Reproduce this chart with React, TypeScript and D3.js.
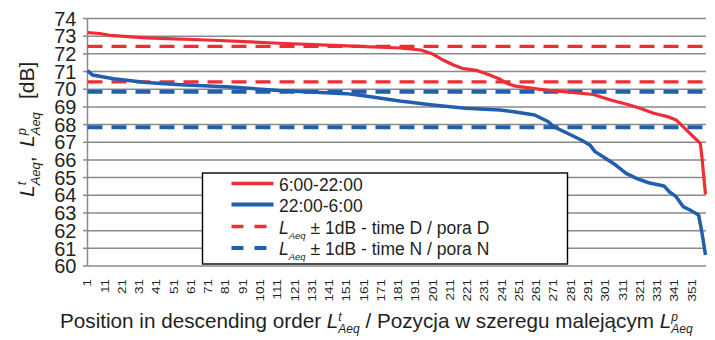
import React from "react";
import * as d3 from "d3";

// Number of ranked positions on the horizontal axis
const positionCount = 359;

// Day period (6:00-22:00): levels ranked in descending order
const dayPositions = [1, 8, 14, 35, 74, 112, 151, 182, 194, 201, 207, 213, 218, 227, 234, 240, 244, 249, 259, 269, 279, 294, 304, 315, 321, 329, 337, 342, 346, 352, 356, 357, 358, 359];
const dayLevels = [73.2, 73.15, 73.05, 72.9, 72.77, 72.6, 72.45, 72.33, 72.22, 71.99, 71.65, 71.37, 71.18, 71.05, 70.8, 70.56, 70.33, 70.17, 70.05, 69.92, 69.85, 69.7, 69.39, 69.11, 68.92, 68.64, 68.45, 68.26, 67.88, 67.31, 66.94, 66.1, 65.05, 64.05];

// Night period (22:00-6:00): levels ranked in descending order
const nightPositions = [1, 4, 16, 35, 55, 84, 112, 151, 161, 170, 182, 201, 220, 240, 248, 260, 268, 271, 279, 287, 292, 295, 301, 307, 313, 319, 326, 335, 338, 342, 346, 350, 355, 357, 359];
const nightLevels = [71.05, 70.8, 70.59, 70.38, 70.25, 70.12, 69.93, 69.75, 69.63, 69.5, 69.33, 69.11, 68.92, 68.82, 68.72, 68.54, 68.16, 67.88, 67.51, 67.13, 66.85, 66.47, 66.09, 65.71, 65.24, 64.96, 64.71, 64.53, 64.2, 63.92, 63.36, 63.17, 62.89, 61.85, 60.62];

// Equivalent levels for each period and the tolerance band around them
const dayEquivalent = 71.42;
const nightEquivalent = 68.85;
const tolerance = 1;

const xTickLabels = [1, 11, 21, 31, 41, 51, 61, 71, 81, 91, 101, 111, 121, 131, 141, 151, 161, 171, 181, 191, 201, 211, 221, 231, 241, 251, 261, 271, 281, 291, 301, 311, 321, 331, 341, 351];
const yTickLabels = [60, 61, 62, 63, 64, 65, 66, 67, 68, 69, 70, 71, 72, 73, 74];

const legendNames = ["6:00-22:00", "22:00-6:00", "time D / pora D", "time N / pora N"];

const RED = "#ee2d36";
const BLUE = "#215eae";
const GRID = "#8a8a8a";
const INK = "#231f20";
const FONT = "'Liberation Sans', Arial, Helvetica, sans-serif";

const width = 715;
const height = 340;
const plot = { left: 87.5, right: 706, top: 18.5, bottom: 266 };

export default function App() {
  const x = d3.scaleLinear().domain([1, positionCount]).range([plot.left, 705.5]);
  const y = d3.scaleLinear().domain([60, 74]).range([plot.bottom, plot.top]);

  const line = d3
    .line<[number, number]>()
    .x((d) => x(d[0]))
    .y((d) => y(d[1]));

  const dayPath = line(dayPositions.map((p, i) => [p, dayLevels[i]]) as [number, number][]) || "";
  const nightPath = line(nightPositions.map((p, i) => [p, nightLevels[i]]) as [number, number][]) || "";

  const refLines = [
    { v: dayEquivalent + tolerance, color: RED, w: 3.3 },
    { v: dayEquivalent - tolerance, color: RED, w: 3.3 },
    { v: nightEquivalent + tolerance, color: BLUE, w: 4 },
    { v: nightEquivalent - tolerance, color: BLUE, w: 4 },
  ];

  const legend = { x: 202.5, y: 173, w: 365, h: 91 };
  const rowY = [183.5, 204.5, 226.5, 248];
  const swatchX0 = 231.5;
  const swatchX1 = 273.5;
  const textX = 279;

  // rotated y-axis title pieces: [offset along the axis from the bottom, piece]
  const yTitleX = 33.5;
  const yTitleBase = 197;

  return (
    <svg
      width={width}
      height={height}
      viewBox={`0 0 ${width} ${height}`}
      style={{ position: "absolute", left: 0, top: 0, background: "#fff" }}
      fontFamily={FONT}
    >
      <rect x={0} y={0} width={width} height={height} fill="#fff" />

      {/* horizontal gridlines and left-axis ticks */}
      {yTickLabels.map((t) => (
        <g key={`g${t}`}>
          <line x1={plot.left} x2={plot.right} y1={y(t)} y2={y(t)} stroke={GRID} strokeWidth={1.5} />
          <line x1={plot.left - 4.5} x2={plot.left} y1={y(t)} y2={y(t)} stroke={GRID} strokeWidth={1.5} />
        </g>
      ))}
      <line x1={plot.left} x2={plot.left} y1={plot.top} y2={plot.bottom} stroke={GRID} strokeWidth={1.5} />

      {/* y tick labels */}
      {yTickLabels.map((t) => (
        <text key={`yl${t}`} x={76.5} y={y(t)} dy="0.36em" textAnchor="end" fontSize={20} fill={INK}>
          {t}
        </text>
      ))}

      {/* x tick labels, rotated */}
      {xTickLabels.map((t) => (
        <text
          key={`xl${t}`}
          transform={`translate(${x(t)},279) rotate(-90) scale(1,0.8)`}
          dy="0.36em"
          textAnchor="end"
          fontSize={13.5}
          fill={INK}
        >
          {t}
        </text>
      ))}

      {/* tolerance bands */}
      {refLines.map((r, i) => (
        <line
          key={`r${i}`}
          x1={plot.left}
          x2={plot.right}
          y1={y(r.v)}
          y2={y(r.v)}
          stroke={r.color}
          strokeWidth={r.w}
          strokeDasharray="15 9"
        />
      ))}

      {/* ranked series */}
      <path d={nightPath} fill="none" stroke={BLUE} strokeWidth={3.5} strokeLinejoin="round" />
      <path d={dayPath} fill="none" stroke={RED} strokeWidth={3.2} strokeLinejoin="round" />

      {/* legend */}
      <rect x={legend.x} y={legend.y} width={legend.w} height={legend.h} fill="#fff" stroke="#000" strokeWidth={1.4} />
      <line x1={swatchX0} x2={swatchX1} y1={rowY[0]} y2={rowY[0]} stroke={RED} strokeWidth={3.5} />
      <line x1={swatchX0} x2={swatchX1} y1={rowY[1]} y2={rowY[1]} stroke={BLUE} strokeWidth={4} />
      <line x1={swatchX0} x2={swatchX1} y1={rowY[2]} y2={rowY[2]} stroke={RED} strokeWidth={3.5} strokeDasharray="12 11" />
      <line x1={swatchX0} x2={swatchX1} y1={rowY[3]} y2={rowY[3]} stroke={BLUE} strokeWidth={4} strokeDasharray="12 11" />
      <text x={textX} y={rowY[0] + 7} fontSize={17.5} fill={INK}>{legendNames[0]}</text>
      <text x={textX} y={rowY[1] + 7} fontSize={17.5} fill={INK}>{legendNames[1]}</text>
      {[2, 3].map((k) => (
        <text key={`lt${k}`} x={textX} y={rowY[k] + 7} fontSize={17.5} fill={INK}>
          <tspan fontStyle="italic">L</tspan>
          <tspan fontStyle="italic" fontSize={9.5} dy={5}>Aeq</tspan>
          <tspan dy={-5}>{" \u00B1 1dB - "}{legendNames[k]}</tspan>
        </text>
      ))}

      {/* y axis title */}
      <g transform={`translate(${yTitleX},${yTitleBase}) rotate(-90)`} fill={INK}>
        <text x={0} y={0} fontSize={21}>
          <tspan fontStyle="italic">L</tspan>
          <tspan fontStyle="italic" fontSize={13} dy={-8}>t</tspan>
          <tspan fontStyle="italic" fontSize={13} dx={-3.6} dy={14}>Aeq</tspan>
          <tspan dy={-6}>,</tspan>
        </text>
        <text x={50} y={0} fontSize={21}>
          <tspan fontStyle="italic">L</tspan>
          <tspan fontStyle="italic" fontSize={13} dy={-8}>p</tspan>
          <tspan fontStyle="italic" fontSize={13} dx={-7.2} dy={14}>Aeq</tspan>
        </text>
        <text x={98} y={0} fontSize={21}>[dB]</text>
      </g>

      {/* x axis title */}
      <text x={60} y={328} fontSize={20.7} fill={INK}>
        <tspan>{"Position in descending order "}</tspan>
        <tspan fontStyle="italic">L</tspan>
        <tspan fontStyle="italic" fontSize={12} dy={-7}>t</tspan>
        <tspan fontStyle="italic" fontSize={12} dx={-3.3} dy={12}>Aeq</tspan>
        <tspan dy={-5}>{" / Pozycja w szeregu malejącym "}</tspan>
        <tspan fontStyle="italic">L</tspan>
        <tspan fontStyle="italic" fontSize={12} dy={-7}>p</tspan>
        <tspan fontStyle="italic" fontSize={12} dx={-6.7} dy={12}>Aeq</tspan>
      </text>
    </svg>
  );
}
